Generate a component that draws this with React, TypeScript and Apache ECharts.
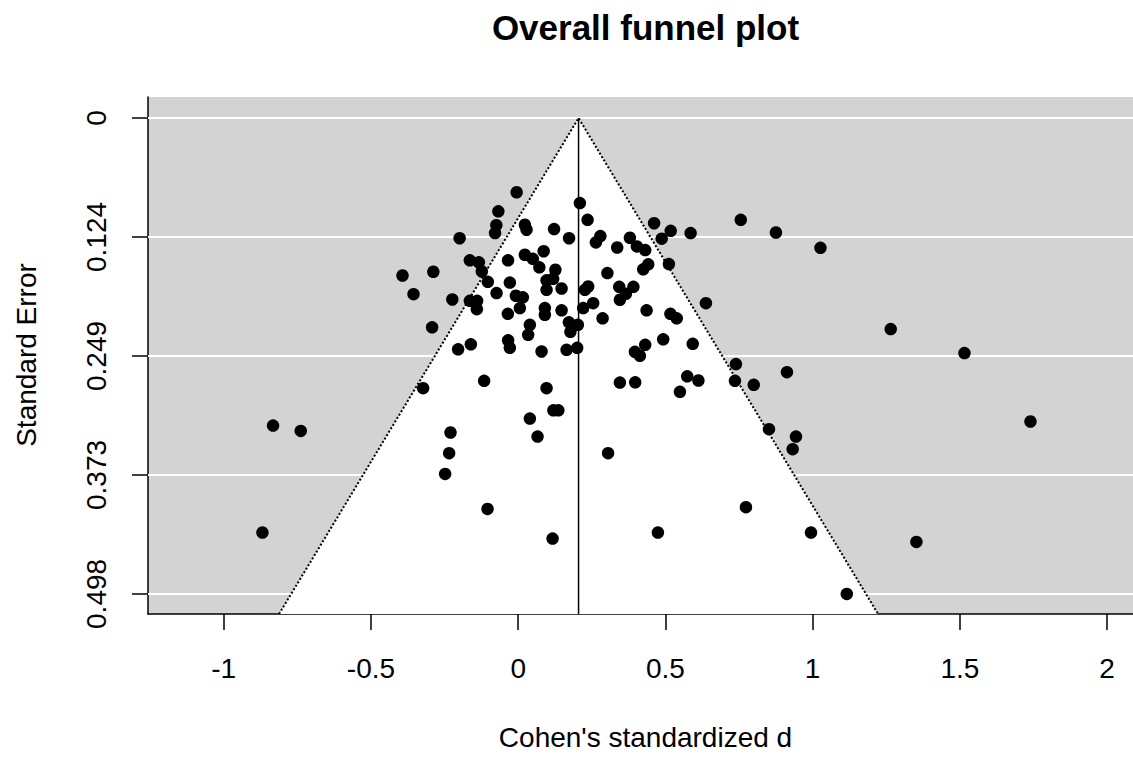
import React, { useEffect, useRef } from "react";
import * as echarts from "echarts";

// ---- Data ----
const xTicks = [-1, -0.5, 0, 0.5, 1, 1.5, 2];
const xTickLabels = ["-1", "-0.5", "0", "0.5", "1", "1.5", "2"];
const seTicks = [0, 0.1245, 0.249, 0.3735, 0.498];
const seTickLabels = ["0", "0.124", "0.249", "0.373", "0.498"];

const effectSizes = [
  -0.8685, -0.8325, -0.7384, -0.3929, -0.3555, -0.3229, -0.2923, -0.2882, -0.2237, -0.1989,
  -0.1642, -0.1336, -0.1234, -0.1031, -0.1642, -0.1394, -0.1404, -0.0674, -0.0742, -0.0786,
  -0.0052, -0.0735, -0.0344, -0.0283, -0.0079, 0.0159, 0.0057, -0.0351, 0.0227, 0.0284,
  0.0227, 0.0498, 0.0719, 0.0865, 0.1219, 0.1728, 0.1263, 0.0964, 0.1188, 0.1474,
  0.0964, 0.0906, 0.0906, 0.1474, 0.1722, 0.2027, 0.1773, 0.0397, 0.0339, -0.0341,
  -0.0283, -0.204, -0.1608, 0.0794, 0.1643, 0.2004, -0.1156, 0.0964, 0.0397, 0.0658,
  0.1195, 0.1365, -0.2298, -0.2345, -0.2481, -0.1041, 0.1168, 0.2095, 0.2357, 0.2792,
  0.2639, 0.3363, 0.3794, 0.4032, 0.4314, 0.303, 0.4416, 0.4246, 0.2377, 0.2265,
  0.3431, 0.3913, 0.3658, 0.3454, 0.2207, 0.2547, 0.2867, 0.4361, 0.517, 0.5384,
  0.4925, 0.4314, 0.3964, 0.4134, 0.5928, 0.3454, 0.3974, 0.5493, 0.5741, 0.6121,
  0.3053, 0.4745, 0.7735, 0.9944, 1.116, 0.8517, 0.9434, 0.9322, 0.7395, 0.7362,
  0.8, 0.9128, 0.6376, 0.5119, 0.4616, 0.518, 0.4874, 0.5856, 0.7559, 0.8754,
  1.0266, 1.2652, 1.5156, 1.7398, 1.3525,
];

const standardErrors = [
  0.4338, 0.3218, 0.3274, 0.1648, 0.1843, 0.2827, 0.219, 0.1609, 0.1899, 0.1258,
  0.1489, 0.151, 0.1606, 0.1714, 0.1913, 0.1913, 0.2, 0.0976, 0.1122, 0.1204,
  0.0777, 0.1832, 0.1489, 0.1722, 0.186, 0.1876, 0.1989, 0.2049, 0.1117, 0.1169,
  0.1431, 0.1473, 0.1562, 0.1394, 0.1162, 0.1258, 0.1588, 0.1698, 0.1682, 0.1784,
  0.1798, 0.1989, 0.2059, 0.2012, 0.2138, 0.2164, 0.2237, 0.2164, 0.2269, 0.2326,
  0.2405, 0.242, 0.2368, 0.2443, 0.2426, 0.2405, 0.275, 0.2827, 0.3145, 0.3333,
  0.3059, 0.3059, 0.3291, 0.3507, 0.3724, 0.409, 0.4401, 0.089, 0.1065, 0.1235,
  0.1302, 0.1355, 0.1253, 0.1344, 0.1382, 0.1623, 0.1531, 0.1583, 0.1763, 0.1798,
  0.1766, 0.1766, 0.1839, 0.1902, 0.1989, 0.1937, 0.2096, 0.2012, 0.2049, 0.2096,
  0.2316, 0.2373, 0.2447, 0.2488, 0.2363, 0.2768, 0.2766, 0.2865, 0.2703, 0.2747,
  0.3507, 0.4338, 0.4072, 0.4338, 0.498, 0.3256, 0.3333, 0.3465, 0.2575, 0.275,
  0.2792, 0.2659, 0.1937, 0.1528, 0.1101, 0.118, 0.1262, 0.1204, 0.1065, 0.1198,
  0.1358, 0.2209, 0.246, 0.3176, 0.4436,
];

const pooledEstimate = 0.205;
const zCrit = 1.96;

// axis ranges
const dAxisMin = -1.2572;
const dAxisMax = 2.088;
const seAxisMin = -0.022;
const seAxisMax = 0.519;

const title = "Overall funnel plot";
const xTitle = "Cohen's standardized d";
const yTitle = "Standard Error";

const FONT = "'Liberation Sans', Arial, Helvetica, sans-serif";

export default function App() {
  const ref = useRef<HTMLDivElement>(null);

  useEffect(() => {
    if (!ref.current) return;
    const chart = echarts.init(ref.current, undefined, { renderer: "svg" });

    const points = effectSizes.map((d, i) => [d, standardErrors[i]]);
    const funnelVertices = [
      [pooledEstimate - zCrit * seAxisMax, seAxisMax],
      [pooledEstimate, 0],
      [pooledEstimate + zCrit * seAxisMax, seAxisMax],
    ];
    const centerLine = [
      [pooledEstimate, 0],
      [pooledEstimate, seAxisMax],
    ];

    const option: any = {
      animation: false,
      grid: {
        left: 148,
        right: 0,
        top: 97,
        bottom: 145,
        show: true,
        backgroundColor: "#d3d3d3",
        borderWidth: 0,
      },
      xAxis: {
        type: "value",
        min: dAxisMin,
        max: dAxisMax,
        axisLine: { show: true, onZero: false, lineStyle: { color: "#000", width: 1.5 } },
        axisTick: {
          show: true,
          length: 16,
          customValues: xTicks,
          lineStyle: { color: "#000", width: 1.5 },
        },
        axisLabel: {
          customValues: xTicks,
          formatter: (v: number) => {
            const i = xTicks.findIndex((t) => Math.abs(t - v) < 1e-9);
            return i >= 0 ? xTickLabels[i] : "";
          },
          fontSize: 28,
          fontFamily: FONT,
          color: "#000",
          margin: 40,
        },
        splitLine: { show: false },
      },
      yAxis: {
        type: "value",
        inverse: true,
        min: seAxisMin,
        max: seAxisMax,
        axisLine: { show: true, onZero: false, lineStyle: { color: "#000", width: 1.5 } },
        axisTick: {
          show: true,
          length: 16,
          customValues: seTicks,
          lineStyle: { color: "#000", width: 1.5 },
        },
        axisLabel: {
          customValues: seTicks,
          formatter: (v: number) => {
            const i = seTicks.findIndex((t) => Math.abs(t - v) < 1e-9);
            return i >= 0 ? seTickLabels[i] : "";
          },
          rotate: 90,
          fontSize: 28,
          fontFamily: FONT,
          color: "#000",
          margin: 38,
        },
        splitLine: { show: false },
      },
      graphic: [
        {
          type: "text",
          x: 645.5,
          y: 27,
          style: {
            text: title,
            font: `bold 35px ${FONT}`,
            fill: "#000",
            textAlign: "center",
            textVerticalAlign: "middle",
          },
        },
        {
          type: "text",
          x: 645.5,
          y: 737,
          style: {
            text: xTitle,
            font: `28px ${FONT}`,
            fill: "#000",
            textAlign: "center",
            textVerticalAlign: "middle",
          },
        },
        {
          type: "text",
          x: 26,
          y: 355,
          rotation: Math.PI / 2,
          style: {
            text: yTitle,
            font: `28px ${FONT}`,
            fill: "#000",
            textAlign: "center",
            textVerticalAlign: "middle",
          },
        },
      ],
      series: [
        {
          name: "grid lines",
          type: "custom",
          silent: true,
          z: 1,
          clip: true,
          data: seTicks.map((v) => [pooledEstimate, v]),
          encode: { x: 0, y: 1 },
          renderItem: (params: any, api: any) => {
            const cs = params.coordSys;
            const y = api.coord([api.value(0), api.value(1)])[1];
            return {
              type: "line",
              shape: { x1: cs.x, y1: y, x2: cs.x + cs.width, y2: y },
              style: { stroke: "#ffffff", lineWidth: 2 },
            };
          },
        },
        {
          name: "funnel",
          type: "custom",
          silent: true,
          z: 2,
          clip: true,
          data: [funnelVertices[1]],
          encode: { x: 0, y: 1 },
          renderItem: (_params: any, api: any) => {
            const pts = funnelVertices.map((p) => api.coord(p));
            return {
              type: "polygon",
              shape: { points: pts },
              style: { fill: "#ffffff", stroke: "none" },
            };
          },
        },
        {
          name: "funnel edges",
          type: "line",
          silent: true,
          z: 3,
          data: funnelVertices,
          symbol: "none",
          lineStyle: { color: "#000", width: 2, type: [2, 2] },
        },
        {
          name: "pooled estimate",
          type: "line",
          silent: true,
          z: 3,
          data: centerLine,
          symbol: "none",
          lineStyle: { color: "#000", width: 1.5 },
        },
        {
          name: "studies",
          type: "scatter",
          z: 4,
          data: points,
          symbol: "circle",
          symbolSize: 12.5,
          itemStyle: { color: "#000", opacity: 1 },
        },
      ],
    };

    chart.setOption(option);
    return () => chart.dispose();
  }, []);

  return (
    <div
      ref={ref}
      style={{ position: "fixed", left: 0, top: 0, width: 1133, height: 759, background: "#fff" }}
    />
  );
}
